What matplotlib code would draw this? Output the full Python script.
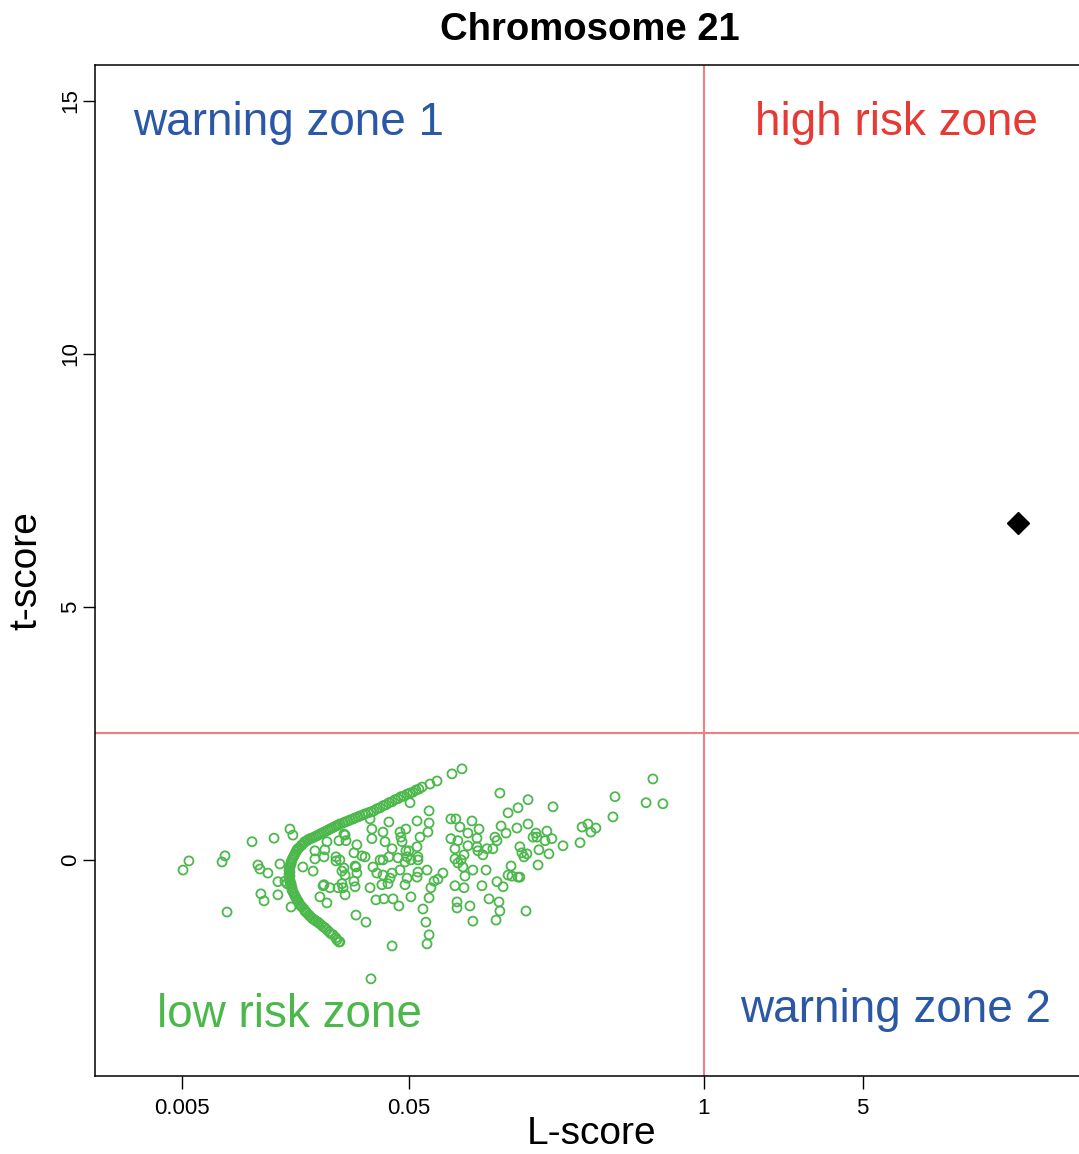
import numpy as np
import matplotlib
matplotlib.use("Agg")
import matplotlib.pyplot as plt

plt.rcParams['font.family'] = ['Liberation Sans', 'DejaVu Sans']

# ---- data ----
# scattered reference samples: log10(L-score) and t-score
scatter_log_l = [
    -2.295, -2.269, -2.123, -2.110, -2.101, -1.991, -1.894, -1.824, -1.811, -1.965,
    -1.956, -1.921, -1.868, -1.877, -1.877, -1.952, -1.938, -1.846, -1.819, -1.767,
    -1.722, -1.714, -1.670, -1.661, -1.714, -1.674, -1.621, -1.621, -1.608, -1.577,
    -1.586, -1.529, -1.542, -1.595, -1.586, -1.537, -1.529, -1.542, -1.595, -1.590,
    -1.674, -1.648, -1.692, -1.661, -1.581, -1.533, -1.489, -1.604, -1.374, -1.467,
    -1.445, -1.410, -1.370, -1.344, -1.291, -1.238, -1.225, -1.211, -1.220, -1.211,
    -1.088, -1.088, -1.031, -1.018, -0.947, -0.903, -0.899, -0.916, -0.784, -1.537,
    -1.471, -1.419, -1.392, -1.317, -1.264, -1.203, -1.189, -1.097, -1.057, -0.978,
    -0.912, -0.885, -1.066, -1.110, -1.176, -1.207, -0.899, -0.775, -0.819, -0.863,
    -1.211, -1.264, -1.211, -1.115, -1.093, -1.022, -1.075, -0.894, -0.775, -0.824,
    -0.872, -0.753, -0.991, -1.040, -1.000, -0.921, -0.912, -1.115, -1.084, -1.040,
    -1.097, -1.000, -0.996, -0.956, -0.930, -0.974, -1.057, -1.070, -1.097, -1.084,
    -1.062, -0.811, -0.802, -0.780, -0.850, -0.863, -0.846, -0.819, -0.960, -1.018,
    -1.053, -1.150, -1.172, -1.220, -1.260, -1.308, -1.339, -1.374, -1.414, -1.441,
    -1.581, -1.471, -1.463, -1.463, -1.414, -1.405, -1.388, -1.339, -1.313, -1.335,
    -1.330, -1.300, -1.264, -1.313, -1.260, -1.260, -1.251, -1.216, -1.374, -1.388,
    -1.414, -1.427, -1.458, -1.493, -1.507, -1.533, -1.581, -1.604, -1.348, -1.308,
    -1.291, -1.317, -1.383, -0.225, -0.392, -0.255, -0.181, -0.401, -0.665, -0.537,
    -0.511, -0.476, -0.498, -0.692, -0.740, -0.736, -0.700, -0.670, -0.621, -0.546,
    -0.727, -0.683, -0.793, -0.731, -0.811, -1.678, -1.612, -1.837, -1.295,
]
scatter_t = [
    -0.20, -0.02, -0.04, 0.08, -1.03, 0.36, 0.43, 0.61, 0.49, -0.10,
    -0.18, -0.26, -0.08, -0.43, -0.69, -0.67, -0.81, -0.42, -0.93, -0.14,
    -0.22, 0.18, 0.20, 0.36, 0.02, 0.06, 0.06, -0.02, 0.38, 0.38,
    0.51, 0.30, 0.14, -0.22, -0.16, -0.12, -0.26, -0.42, -0.47, -0.55,
    -0.49, -0.55, -0.73, -0.85, -0.69, -1.09, -1.23, -1.62, -1.70, -2.35,
    -0.79, -0.77, -0.77, -0.91, -0.73, -0.97, -1.23, -1.48, -1.66, -0.75,
    -0.83, -0.95, -0.91, -1.21, -0.77, -0.83, -1.01, -1.19, -1.01, -0.53,
    -0.55, -0.49, -0.47, -0.49, -0.34, -0.55, -0.42, -0.51, -0.55, -0.51,
    -0.43, -0.53, 1.80, 1.70, 1.56, 1.50, 1.32, 1.19, 1.03, 0.93,
    0.97, 0.77, 0.73, 0.81, 0.81, 0.77, 0.65, 0.67, 0.71, 0.63,
    0.53, 0.45, 0.61, 0.53, 0.43, 0.45, 0.38, 0.42, 0.38, 0.28,
    0.22, 0.26, 0.18, 0.22, 0.22, 0.10, 0.10, 0.00, 0.02, -0.06,
    -0.14, 0.26, 0.14, 0.12, -0.12, -0.30, -0.32, -0.34, -0.20, -0.20,
    -0.32, -0.26, -0.38, -0.20, -0.24, -0.36, -0.20, -0.26, -0.30, -0.26,
    -0.30, 0.81, 0.61, 0.42, 0.55, 0.36, 0.75, 0.55, 0.61, 0.45,
    0.36, 0.18, 0.26, 0.18, 0.06, 0.00, 0.45, 0.55, 0.22, 0.06,
    0.00, 0.00, -0.14, 0.06, 0.08, -0.14, 0.49, 0.00, 0.04, 0.06,
    0.00, -0.04, -0.36, 1.60, 1.25, 1.13, 1.11, 0.85, 1.05, 0.65,
    0.71, 0.63, 0.55, 0.57, 0.53, 0.45, 0.38, 0.42, 0.28, 0.34,
    0.20, 0.12, 0.06, -0.10, -0.34, -0.51, -0.55, -0.47, 1.13,
]
# dense curved band of reference samples (two rows read along the band)
curve_log_l = [
    -1.608, -1.621, -1.634, -1.652, -1.670, -1.687, -1.700, -1.714, -1.727, -1.740,
    -1.753, -1.762, -1.775, -1.784, -1.793, -1.802, -1.811, -1.815, -1.819, -1.824,
    -1.824, -1.824, -1.824, -1.819, -1.815, -1.806, -1.797, -1.789, -1.775, -1.762,
    -1.749, -1.736, -1.718, -1.700, -1.683, -1.665, -1.648, -1.630, -1.612, -1.590,
    -1.568, -1.546, -1.524, -1.502, -1.480, -1.454, -1.427, -1.401, -1.374, -1.348,
    -1.322, -1.295, -1.269, -1.242,
    -1.617, -1.643, -1.661, -1.678, -1.696, -1.709, -1.722, -1.736, -1.749, -1.758,
    -1.771, -1.780, -1.789, -1.797, -1.806, -1.815, -1.819, -1.824, -1.828, -1.828,
    -1.828, -1.824, -1.819, -1.811, -1.802, -1.793, -1.784, -1.771, -1.758, -1.744,
    -1.727, -1.709, -1.692, -1.674, -1.656, -1.639, -1.621, -1.604, -1.581, -1.559,
    -1.537, -1.515, -1.493, -1.467, -1.441, -1.414, -1.388, -1.361, -1.335, -1.308,
    -1.282, -1.256,
]
curve_t = [
    -1.62, -1.54, -1.48, -1.42, -1.34, -1.28, -1.23, -1.19, -1.15, -1.09,
    -1.03, -0.97, -0.91, -0.85, -0.79, -0.71, -0.63, -0.55, -0.47, -0.40,
    -0.32, -0.24, -0.16, -0.08, 0.00, 0.08, 0.16, 0.22, 0.28, 0.34,
    0.38, 0.42, 0.45, 0.49, 0.53, 0.57, 0.61, 0.65, 0.69, 0.73,
    0.77, 0.81, 0.85, 0.89, 0.93, 0.97, 1.03, 1.09, 1.15, 1.21,
    1.26, 1.32, 1.38, 1.44,
    -1.58, -1.46, -1.38, -1.32, -1.25, -1.21, -1.17, -1.11, -1.05, -1.01,
    -0.93, -0.89, -0.81, -0.75, -0.67, -0.59, -0.51, -0.43, -0.36, -0.28,
    -0.20, -0.12, -0.04, 0.04, 0.12, 0.20, 0.24, 0.30, 0.36, 0.40,
    0.43, 0.47, 0.51, 0.55, 0.59, 0.63, 0.67, 0.71, 0.75, 0.79,
    0.83, 0.87, 0.91, 0.95, 1.01, 1.07, 1.13, 1.19, 1.25, 1.30,
    1.34, 1.40,
]
sample_l = [24.2]
sample_t = [6.66]

l_cut = 1.0
t_cut = 2.5

x_ticks = [0.005, 0.05, 1, 5]
x_tick_labels = ["0.005", "0.05", "1", "5"]
y_ticks = [0, 5, 10, 15]

zone_labels = ["warning zone 1", "high risk zone", "low risk zone", "warning zone 2"]
zone_colors = ["#2B58A6", "#E83A35", "#4CB84C", "#2B58A6"]
zone_pos = [(0.00305, 14.57), (1.68, 14.57), (0.00389, -3.06), (1.44, -2.96)]

# ---- plot ----
fig = plt.figure(figsize=(10.79, 11.54), dpi=100)
ax = fig.add_axes([0.088, 0.0676, 0.912, 0.8761])

green = "#4CB84C"
ax.scatter(10 ** np.array(curve_log_l), curve_t, s=42, facecolors='none',
           edgecolors=green, linewidths=1.3, zorder=3)
ax.scatter(10 ** np.array(scatter_log_l), scatter_t, s=42, facecolors='none',
           edgecolors=green, linewidths=1.3, zorder=3)
ax.plot(sample_l, sample_t, marker='D', color='black', markersize=11,
        linestyle='none', zorder=4)

ax.axvline(l_cut, color='#F08080', linewidth=1.5, zorder=1)
ax.axhline(t_cut, color='#F08080', linewidth=1.5, zorder=1)

ax.set_xscale('log')
ax.set_xlim(0.002075, 44.9)
ax.set_ylim(-4.27, 15.71)
ax.set_xticks(x_ticks)
ax.set_xticklabels(x_tick_labels)
ax.minorticks_off()
ax.set_yticks(y_ticks)
ax.set_yticklabels([str(v) for v in y_ticks], rotation=90, va='center')
ax.tick_params(axis='both', direction='out', length=9, width=1, labelsize=16)
ax.tick_params(axis='y', pad=1)
ax.tick_params(axis='x', pad=7)

for sp in ['left', 'top', 'bottom']:
    ax.spines[sp].set_linewidth(1.1)
ax.spines['right'].set_visible(False)

for lab, col, (xx, yy) in zip(zone_labels, zone_colors, zone_pos):
    ax.text(xx, yy, lab, color=col, fontsize=33, ha='left', va='center')

ax.set_xlabel("L-score", fontsize=28)
ax.xaxis.set_label_coords(0.505, -0.040)
ax.set_ylabel("t-score", fontsize=28)
ax.yaxis.set_label_coords(-0.051, 0.5)
fig.suptitle("Chromosome 21", fontsize=27.5, fontweight='bold', x=0.547, y=0.99)

fig.savefig("out.png", dpi=100)
